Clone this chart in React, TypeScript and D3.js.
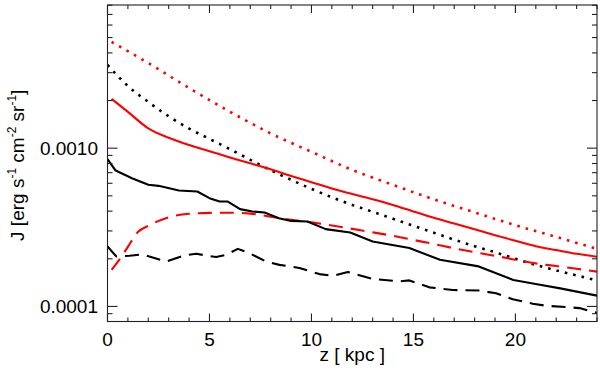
import React from "react";
import * as d3 from "d3";

// z [kpc] and J values
const zRedDot = [0.2, 2, 4, 6, 8, 10, 12, 14, 16, 18, 20, 22, 24];
const jRedDot = [0.00469, 0.00345, 0.0024, 0.0017, 0.00124, 0.000948, 0.000729, 0.000586, 0.000475, 0.000393, 0.000326, 0.000275, 0.000231];

const zBlackDot = [0, 1, 2, 3, 4, 5, 6, 7, 8, 9, 10, 11, 12, 13, 14, 15, 16, 17, 18, 19, 20, 21, 22, 23, 24];
const jBlackDot = [0.00336, 0.00247, 0.00196, 0.00159, 0.00133, 0.001145, 0.000986, 0.000844, 0.000726, 0.000631, 0.000553, 0.000489, 0.000438, 0.000396, 0.000358, 0.000323, 0.000292, 0.000264, 0.00024, 0.00022, 0.0002, 0.000183, 0.000169, 0.000157, 0.000146];

const zRedSolid = [0.2, 1, 2, 3, 4, 5, 6, 7, 8, 9, 10, 11, 12, 13, 14, 15, 16, 17, 18, 19, 20, 21, 22, 23, 24];
const jRedSolid = [0.002048, 0.001696, 0.001334, 0.001163, 0.001046, 0.000957, 0.000874, 0.000802, 0.000735, 0.000668, 0.00061, 0.000556, 0.000513, 0.000476, 0.000438, 0.000398, 0.000363, 0.000334, 0.000307, 0.000282, 0.00026, 0.00024, 0.000227, 0.000215, 0.000206];

const zRedDash = [0.2, 0.5, 1, 1.5, 2, 3, 4, 5, 6, 7, 8, 9, 10, 11, 12, 13, 14, 15, 16, 17, 18, 19, 20, 21, 22, 23, 24];
const jRedDash = [0.00017, 0.000191, 0.000238, 0.000296, 0.000323, 0.000366, 0.000385, 0.00039, 0.000391, 0.000386, 0.000369, 0.000353, 0.00034, 0.000325, 0.000309, 0.000294, 0.000279, 0.000263, 0.000248, 0.000233, 0.00022, 0.000209, 0.000197, 0.000187, 0.00018, 0.000173, 0.000166];

const zBlackSolid = [0, 0.4, 1.2, 2, 2.5, 3.5, 4.4, 5, 5.5, 5.9, 6.5, 7.1, 7.7, 8.4, 9, 9.8, 10.7, 11.9, 13, 14.8, 16.3, 18.2, 19.9, 21.2, 22.2, 24];
const jBlackSolid = [0.000852, 0.000722, 0.000646, 0.000587, 0.000578, 0.00054, 0.000532, 0.000483, 0.00046, 0.00046, 0.000412, 0.000398, 0.000392, 0.000361, 0.000347, 0.000344, 0.000308, 0.000293, 0.000257, 0.000234, 0.000197, 0.000179, 0.000147, 0.000137, 0.00013, 0.000117];

const zBlackDash = [0, 0.43, 1.08, 1.73, 2.88, 3.77, 4.35, 5.33, 5.82, 6.39, 6.96, 7.78, 8.43, 9.41, 10.39, 11.04, 11.78, 13, 14.3, 14.8, 15.78, 16.93, 18.24, 19.05, 19.87, 20.85, 21.5, 22.49, 23.14, 24];
const jBlackDash = [0.000239, 0.000207, 0.000209, 0.000213, 0.000192, 0.00021, 0.000215, 0.000205, 0.000212, 0.000231, 0.000217, 0.000192, 0.000183, 0.000175, 0.00016, 0.000156, 0.000165, 0.000149, 0.000144, 0.000146, 0.000132, 0.000127, 0.000126, 0.000121, 0.000111, 0.000104, 0.000101, 0.000099, 0.0000976, 0.0000911];

const xMajor = [0, 5, 10, 15, 20];
const yMajor = [0.0001, 0.001];
const yLabels = ["0.0001", "0.0010"];

const FONT = "'Liberation Sans', Arial, Helvetica, sans-serif";

function App() {
  const W = 600;
  const H = 376;
  const left = 107.5, right = 597, top = 5, bottom = 321.5;

  const x = d3.scaleLinear().domain([0, 24]).range([left, right]);
  const y = d3.scaleLog().domain([8.03e-5, 8.03e-3]).range([bottom, top]);

  const mk = (zs: number[], js: number[], smooth: boolean) =>
    d3.line<number>()
      .x((d, i) => x(zs[i]))
      .y((d, i) => y(js[i]))
      .curve(smooth ? d3.curveMonotoneX : d3.curveLinear)(js) || "";

  const series = [
    { z: zRedDot, j: jRedDot, color: "#ff0000", dash: "2.6 6", w: 2.6, smooth: true },
    { z: zBlackDot, j: jBlackDot, color: "#000", dash: "2.6 6", w: 2.6, smooth: true },
    { z: zRedSolid, j: jRedSolid, color: "#ff0000", dash: "", w: 2.1, smooth: true },
    { z: zRedDash, j: jRedDash, color: "#ff0000", dash: "14 8", w: 2.1, smooth: true },
    { z: zBlackSolid, j: jBlackSolid, color: "#000", dash: "", w: 2.1, smooth: false },
    { z: zBlackDash, j: jBlackDash, color: "#000", dash: "14 8", w: 2.1, smooth: false },
  ];

  const xMinor = d3.range(0, 25, 1).filter((v) => xMajor.indexOf(v) < 0);
  const yAll = y.ticks();
  const yMinor = yAll.filter((v) => !yMajor.some((m) => Math.abs(m - v) / m < 1e-6));

  const axisColor = "#222";

  return (
    <svg width={W} height={H} style={{ position: "absolute", left: 0, top: 0, background: "#fff" }}>
      <defs>
        <clipPath id="plot">
          <rect x={left} y={top} width={right - left} height={bottom - top} />
        </clipPath>
      </defs>
      <g clipPath="url(#plot)">
        {series.map((s, i) => (
          <path key={i} d={mk(s.z, s.j, s.smooth)} fill="none" stroke={s.color} strokeWidth={s.w}
            strokeDasharray={s.dash || undefined} strokeLinejoin="round" />
        ))}
      </g>
      <g stroke={axisColor} strokeWidth={1.1}>
        <rect x={left} y={top} width={right - left} height={bottom - top} fill="none" />
        {xMajor.map((v) => (
          <g key={"xm" + v}>
            <line x1={x(v)} x2={x(v)} y1={bottom} y2={bottom - 8} />
            <line x1={x(v)} x2={x(v)} y1={top} y2={top + 8} />
          </g>
        ))}
        {xMinor.map((v) => (
          <g key={"xn" + v}>
            <line x1={x(v)} x2={x(v)} y1={bottom} y2={bottom - 4} />
            <line x1={x(v)} x2={x(v)} y1={top} y2={top + 4} />
          </g>
        ))}
        {yMajor.map((v) => (
          <g key={"ym" + v}>
            <line x1={left} x2={left + 10} y1={y(v)} y2={y(v)} />
            <line x1={right} x2={right - 10} y1={y(v)} y2={y(v)} />
          </g>
        ))}
        {yMinor.map((v) => (
          <g key={"yn" + v}>
            <line x1={left} x2={left + 5} y1={y(v)} y2={y(v)} />
            <line x1={right} x2={right - 5} y1={y(v)} y2={y(v)} />
          </g>
        ))}
      </g>
      <g fontFamily={FONT} fontSize={19} fill="#000">
        {xMajor.map((v) => (
          <text key={"xl" + v} x={x(v)} y={346} textAnchor="middle">{v}</text>
        ))}
        {yMajor.map((v, i) => (
          <text key={"yl" + v} x={98} y={y(v) + 7} textAnchor="end">{yLabels[i]}</text>
        ))}
        <text x={(left + right) / 2} y={361} textAnchor="middle">z [ kpc ]</text>
        <text transform={`translate(23.5,${(top + bottom) / 2 + 2}) rotate(-90)`} textAnchor="middle">
          J [erg s
          <tspan fontSize={12} dy={-8}>-1</tspan>
          <tspan dy={8}> cm</tspan>
          <tspan fontSize={12} dy={-8}>-2</tspan>
          <tspan dy={8}> sr</tspan>
          <tspan fontSize={12} dy={-8}>-1</tspan>
          <tspan dy={8}>]</tspan>
        </text>
      </g>
    </svg>
  );
}

export default App;
